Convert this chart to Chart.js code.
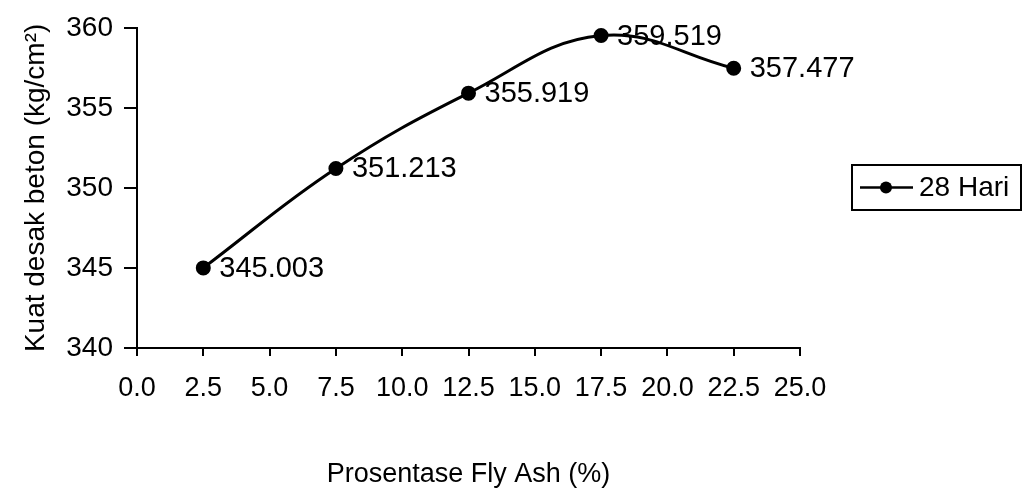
<!DOCTYPE html>
<html>
<head>
<meta charset="utf-8">
<script src="https://cdn.jsdelivr.net/npm/chart.js@4.4.1/dist/chart.umd.min.js"></script>
<style>
  html, body { margin: 0; padding: 0; background: #ffffff; }
  #wrap { width: 1024px; height: 497px; }
</style>
</head>
<body>
<div id="wrap"><canvas id="c" width="1024" height="497"></canvas></div>
<script>
// Compressive strength of concrete at 28 days vs. fly ash content
const flyAshPercent = [2.5, 7.5, 12.5, 17.5, 22.5];
const strength28 = [345.003, 351.213, 355.919, 359.519, 357.477];
const seriesLabel = '28 Hari';

const xTickValues = [0, 2.5, 5, 7.5, 10, 12.5, 15, 17.5, 20, 22.5, 25];
const xTickLabels = ['0.0', '2.5', '5.0', '7.5', '10.0', '12.5', '15.0', '17.5', '20.0', '22.5', '25.0'];
const yTickValues = [340, 345, 350, 355, 360];
const yTickLabels = ['340', '345', '350', '355', '360'];

const xTitle = 'Prosentase Fly Ash (%)';
const yTitle = 'Kuat desak beton (kg/cm\u00B2)';

const FONT = '"Liberation Sans", Arial, Helvetica, sans-serif';
const INK = '#000000';

// value labels beside each point
const valueLabels = {
  id: 'valueLabels',
  afterDatasetsDraw(chart) {
    const ctx = chart.ctx;
    const meta = chart.getDatasetMeta(0);
    ctx.save();
    ctx.font = '29px ' + FONT;
    ctx.fillStyle = INK;
    ctx.textAlign = 'left';
    ctx.textBaseline = 'middle';
    meta.data.forEach((pt, i) => {
      ctx.fillText(strength28[i].toFixed(3), pt.x + 16, pt.y + 1);
    });
    ctx.restore();
  }
};

// x axis caption, and the boxed legend on the right
const extras = {
  id: 'extras',
  afterDraw(chart) {
    const ctx = chart.ctx;
    const area = chart.chartArea;
    ctx.save();
    ctx.fillStyle = INK;
    ctx.font = '27px ' + FONT;
    ctx.textAlign = 'center';
    ctx.textBaseline = 'middle';
    ctx.fillText(xTitle, (area.left + area.right) / 2, 475);

    const bw = 169, bh = 45;
    const bx = area.right + 52;
    const by = Math.round((area.top + area.bottom) / 2 - bh / 2);
    ctx.strokeStyle = INK;
    ctx.lineWidth = 2;
    ctx.strokeRect(bx, by, bw, bh);
    const my = by + bh / 2;
    ctx.lineWidth = 2.5;
    ctx.beginPath();
    ctx.moveTo(bx + 8, my);
    ctx.lineTo(bx + 61, my);
    ctx.stroke();
    ctx.beginPath();
    ctx.arc(bx + 34, my, 6, 0, Math.PI * 2);
    ctx.fill();
    ctx.font = '28px ' + FONT;
    ctx.textAlign = 'left';
    ctx.fillText(chart.data.datasets[0].label, bx + 67, my + 1);
    ctx.restore();
  }
};

new Chart(document.getElementById('c'), {
  type: 'line',
  data: {
    datasets: [{
      label: seriesLabel,
      data: flyAshPercent.map((x, i) => ({ x: x, y: strength28[i] })),
      borderColor: INK,
      backgroundColor: INK,
      borderWidth: 3,
      pointRadius: 6,
      pointBackgroundColor: INK,
      pointBorderColor: INK,
      tension: 0.4,
      fill: false
    }]
  },
  options: {
    responsive: false,
    animation: false,
    devicePixelRatio: 1,
    layout: { padding: { left: 19, top: 23, right: 224, bottom: 89 } },
    plugins: {
      legend: { display: false },
      tooltip: { enabled: false }
    },
    scales: {
      x: {
        type: 'linear',
        min: 0,
        max: 25,
        afterBuildTicks: s => { s.ticks = xTickValues.map(v => ({ value: v })); },
        afterFit: s => { s.height = 60; },
        ticks: {
          callback: (v, i) => xTickLabels[i],
          autoSkip: false,
          maxRotation: 0,
          color: INK,
          padding: 16,
          font: { family: FONT, size: 27 }
        },
        grid: { drawOnChartArea: false, drawTicks: true, tickLength: 8, color: INK, lineWidth: 2 },
        border: { color: INK, width: 2 }
      },
      y: {
        min: 340,
        max: 360,
        afterBuildTicks: s => { s.ticks = yTickValues.map(v => ({ value: v })); },
        afterFit: s => { s.width = 118; },
        ticks: {
          callback: (v, i) => yTickLabels[i],
          color: INK,
          padding: 11,
          font: { family: FONT, size: 28 }
        },
        grid: { drawOnChartArea: false, drawTicks: true, tickLength: 13, color: INK, lineWidth: 2 },
        border: { color: INK, width: 2 },
        title: {
          display: true,
          text: yTitle,
          color: INK,
          padding: 0,
          font: { family: FONT, size: 28 }
        }
      }
    }
  },
  plugins: [valueLabels, extras]
});
</script>
</body>
</html>
